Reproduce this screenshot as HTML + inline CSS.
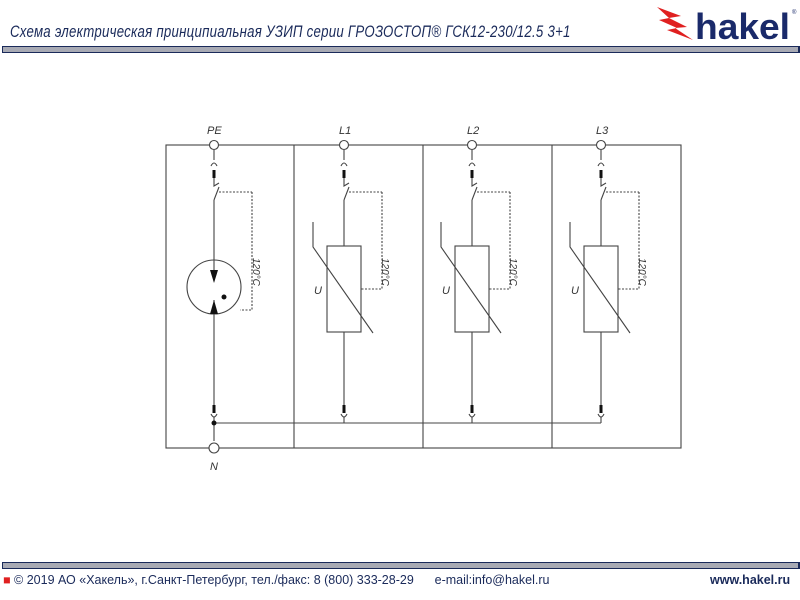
<!DOCTYPE html>
<html><head><meta charset="utf-8"><style>
body{margin:0;width:800px;height:600px;background:#fff;overflow:hidden;position:relative;font-family:"Liberation Sans",sans-serif}
.title{position:absolute;left:10px;top:22px;font-size:17px;font-style:italic;color:#1a2a5a;transform:scaleX(0.78);transform-origin:left;letter-spacing:0.3px;white-space:nowrap}
.bar{position:absolute;left:2px;width:795px;height:5px;background:#a8aab4;border:1px solid #1a2a5a;border-right:3px solid #1a2a5a}
.foot{position:absolute;top:573px;font-size:12.5px;color:#1a2a5a;white-space:nowrap}
</style></head><body>
<div class="title">Схема электрическая принципиальная УЗИП серии ГРОЗОСТОП® ГСК12-230/12.5 3+1</div>
<div class="bar" style="top:46px"></div>
<div class="bar" style="top:562px"></div>
<svg style="position:absolute;left:655px;top:4px" width="145" height="40">
<polygon points="2,3 26,12 14,14 32,23 20,24 38,36 12,26 22,24 4,16 14,14" fill="#e02020"/>
<text x="40" y="35" font-family="Liberation Sans" font-weight="bold" font-size="36" fill="#1a2a6a" textLength="95" lengthAdjust="spacingAndGlyphs">hakel</text>
<text x="137" y="10" font-size="6" fill="#1a2a6a">®</text>
</svg>
<div class="foot" style="left:3px"><span style="color:#e02020">■</span> © 2019 АО «Хакель», г.Санкт-Петербург, тел./факс: 8 (800) 333-28-29 &nbsp;&nbsp;&nbsp;&nbsp; e-mail:info@hakel.ru</div>
<div class="foot" style="left:710px;font-weight:bold;font-size:12.5px">www.hakel.ru</div>
<svg style="position:absolute;left:0;top:0" width="800" height="600" font-family="Liberation Sans" font-style="italic" font-size="11" fill="none" stroke="#444" stroke-width="1.1">
<rect x="166" y="145" width="515" height="303"/>
<line x1="294" y1="145" x2="294" y2="448"/><line x1="423" y1="145" x2="423" y2="448"/><line x1="552" y1="145" x2="552" y2="448"/>
<line x1="214" y1="423" x2="601" y2="423"/>
<defs>
<g id="sw">
<path d="M0,150 V160 M-3,166 Q0,160 3,166"/>
<rect x="-1.5" y="170" width="3" height="8" fill="#111" stroke="none"/>
<path d="M0,178 V186 L5,183 M5,187 L0,200"/>
<path d="M5,192 H38" stroke-dasharray="2,1.5"/>
<rect x="-1.5" y="405" width="3" height="8" fill="#111" stroke="none"/>
<path d="M-3,414 Q0,420 3,414"/>
</g>
<g id="mod">
<use href="#sw"/>
<path d="M0,200 V246"/>
<rect x="-17" y="246" width="34" height="86"/>
<path d="M-31,222 V247 L29,333"/>
<path d="M0,332 V405"/>
<path d="M0,417 V423"/>
<path d="M38,192 V289 H17" stroke-dasharray="2,1.5"/>
<text x="-30" y="294" fill="#333" stroke="none">U</text>
<text transform="translate(38,258) rotate(90)" fill="#333" stroke="none" font-size="10">120°C</text>
</g>
</defs>
<use href="#mod" x="344"/><use href="#mod" x="472"/><use href="#mod" x="601"/>
<use href="#sw" x="214"/>
<path d="M214,200 V278 M214,300 V405 M214,417 V441"/>
<circle cx="214" cy="287" r="27"/>
<polygon points="210,270 218,270 214,283" fill="#111" stroke="none"/>
<polygon points="210,314 218,314 214,300" fill="#111" stroke="none"/>
<circle cx="224" cy="297" r="2.5" fill="#111" stroke="none"/>
<circle cx="214" cy="423" r="2.5" fill="#111" stroke="none"/>
<path d="M252,192 V310 H240" stroke-dasharray="2,1.5"/>
<text transform="translate(253,258) rotate(90)" fill="#333" stroke="none" font-size="10">120°C</text>
<g fill="#fff"><circle cx="214" cy="145" r="4.5"/><circle cx="344" cy="145" r="4.5"/><circle cx="472" cy="145" r="4.5"/><circle cx="601" cy="145" r="4.5"/><circle cx="214" cy="448" r="5"/></g>
<g fill="#333" stroke="none"><text x="207" y="134">PE</text><text x="339" y="134">L1</text><text x="467" y="134">L2</text><text x="596" y="134">L3</text><text x="210" y="470">N</text></g>
</svg>
</body></html>
